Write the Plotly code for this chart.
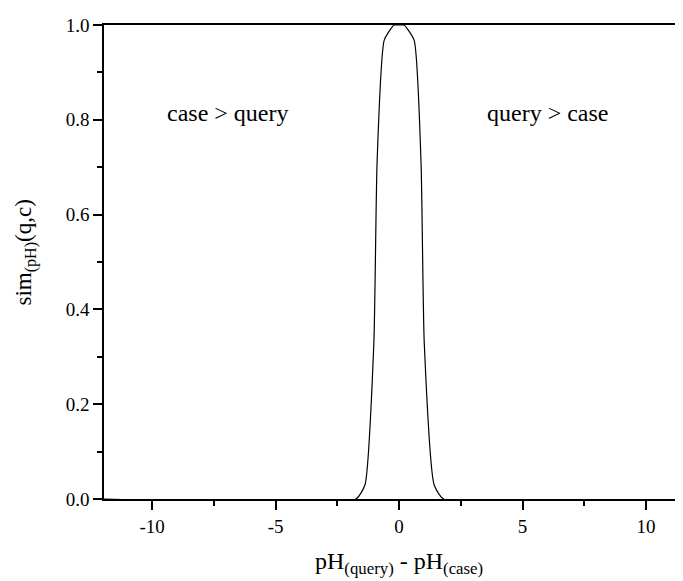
import plotly.graph_objects as go

# Data
ph_diff = [-12, -1.75, -1.38, -1.02, -0.89, -0.6, -0.2, 0, 0.2, 0.61, 0.89, 1.02, 1.42, 1.8, 12]
sim = [0, 0, 0.03, 0.33, 0.71, 0.968, 1.0, 1.0, 1.0, 0.968, 0.71, 0.33, 0.03, 0, 0]

x_ticks = [-10, -5, 0, 5, 10]
x_tick_labels = ["-10", "-5", "0", "5", "10"]
y_ticks = [0.0, 0.2, 0.4, 0.6, 0.8, 1.0]
y_tick_labels = ["0.0", "0.2", "0.4", "0.6", "0.8", "1.0"]

FONT = "Liberation Serif"

fig = go.Figure()
fig.add_trace(go.Scatter(
    x=ph_diff, y=sim, mode="lines",
    line=dict(color="black", width=1.2, shape="spline", smoothing=0.5),
    showlegend=False, hoverinfo="skip",
))

fig.add_annotation(x=-6.95, y=0.814, text="case > query", showarrow=False,
                   font=dict(family=FONT, size=24, color="black"))
fig.add_annotation(x=6.0, y=0.814, text="query > case", showarrow=False,
                   font=dict(family=FONT, size=24, color="black"))

# axis titles as annotations for exact placement
fig.add_annotation(x=0, xref="x", y=0, yref="paper", yshift=-64, yanchor="middle",
                   text="pH<sub>(query)</sub> - pH<sub>(case)</sub>", showarrow=False,
                   font=dict(family=FONT, size=24, color="black"))
fig.add_annotation(x=0, xref="paper", xshift=-78, xanchor="center",
                   y=0.52, yref="paper", yanchor="middle", textangle=-90,
                   text="sim<sub>(pH)</sub>(q,c)", showarrow=False,
                   font=dict(family=FONT, size=23, color="black"))

fig.update_layout(
    width=675, height=573,
    margin=dict(l=96, r=0, t=17, b=82),
    paper_bgcolor="white", plot_bgcolor="white",
    font=dict(family=FONT, size=19, color="black"),
    xaxis=dict(
        range=[-11.95, 11.5], tickvals=x_ticks, ticktext=x_tick_labels,
        showgrid=False, zeroline=False,
        showline=True, linecolor="black", linewidth=1.5, mirror=True,
        ticks="outside", ticklen=9, tickwidth=1.5, tickcolor="black",
        minor=dict(dtick=2.5, ticks="outside", ticklen=5, tickwidth=1.5, tickcolor="black"),
        tickfont=dict(family=FONT, size=19, color="black"),
    ),
    yaxis=dict(
        range=[0, 1.0], tickvals=y_ticks, ticktext=y_tick_labels,
        showgrid=False, zeroline=False,
        showline=True, linecolor="black", linewidth=1.5,
        ticks="outside", ticklen=9, tickwidth=1.5, tickcolor="black",
        minor=dict(dtick=0.1, ticks="outside", ticklen=5, tickwidth=1.5, tickcolor="black"),
        tickfont=dict(family=FONT, size=19, color="black"),
    ),
)

fig.write_html("out.html")
